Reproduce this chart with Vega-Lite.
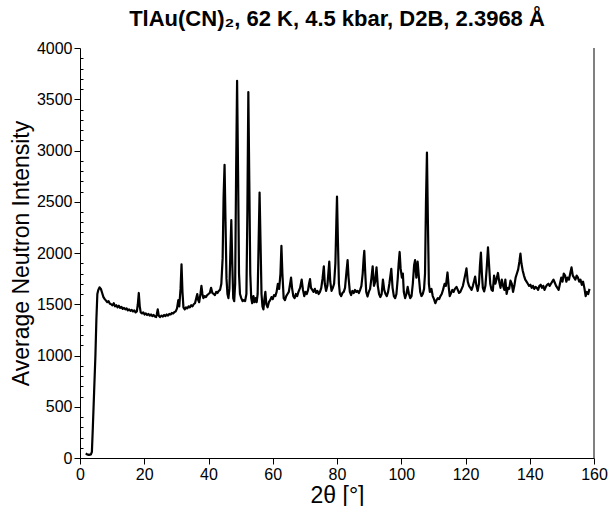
{
  "$schema": "https://vega.github.io/schema/vega-lite/v6.json",
  "autosize": "none",
  "width": 514,
  "height": 410,
  "padding": {"left": 80, "top": 48, "right": 14, "bottom": 48},
  "background": "white",
  "config": {
    "view": {"stroke": null},
    "axis": {
      "domainColor": "black", "tickColor": "black", "labelColor": "black", "titleColor": "black",
      "labelFont": "Liberation Sans", "titleFont": "Liberation Sans", "titleFontWeight": "normal",
      "labelFontSize": 16, "titleFontSize": 23, "grid": false, "labelFlush": false, "labelOverlap": false
    }
  },
  "title": {
    "text": "TlAu(CN)₂, 62 K, 4.5 kbar, D2B, 2.3968 Å",
    "font": "Liberation Sans", "fontSize": 22, "fontWeight": "bold", "color": "black",
    "baseline": "alphabetic", "offset": -8, "anchor": "middle"
  },
  "layer": [
    {
      "data": {"values": [
        {"angle":1.8,"intensity":45},{"angle":2.2,"intensity":35},{"angle":2.8,"intensity":30},{"angle":3.4,"intensity":35},{"angle":3.7,"intensity":60},{"angle":4.0,"intensity":300},{"angle":4.4,"intensity":650},{"angle":4.8,"intensity":1000},{"angle":5.1,"intensity":1350},{"angle":5.4,"intensity":1600},{"angle":5.7,"intensity":1640},{"angle":6.1,"intensity":1665},{"angle":6.5,"intensity":1650},{"angle":6.9,"intensity":1610},{"angle":7.3,"intensity":1570},{"angle":7.7,"intensity":1550},{"angle":8.1,"intensity":1535},{"angle":8.5,"intensity":1520},{"angle":8.9,"intensity":1530},{"angle":9.3,"intensity":1505},{"angle":9.7,"intensity":1500},{"angle":10.1,"intensity":1490},{"angle":10.5,"intensity":1510},{"angle":10.9,"intensity":1480},{"angle":11.3,"intensity":1490},{"angle":11.7,"intensity":1470},{"angle":12.1,"intensity":1485},{"angle":12.5,"intensity":1465},{"angle":12.9,"intensity":1475},{"angle":13.3,"intensity":1455},{"angle":13.7,"intensity":1465},{"angle":14.1,"intensity":1450},{"angle":14.5,"intensity":1460},{"angle":14.9,"intensity":1440},{"angle":15.3,"intensity":1450},{"angle":15.7,"intensity":1435},{"angle":16.1,"intensity":1445},{"angle":16.5,"intensity":1430},{"angle":16.9,"intensity":1440},{"angle":17.3,"intensity":1420},{"angle":17.7,"intensity":1430},{"angle":18.0,"intensity":1500},{"angle":18.3,"intensity":1610},{"angle":18.6,"intensity":1480},{"angle":18.9,"intensity":1420},{"angle":19.3,"intensity":1410},{"angle":19.7,"intensity":1420},{"angle":20.1,"intensity":1400},{"angle":20.5,"intensity":1410},{"angle":20.9,"intensity":1395},{"angle":21.3,"intensity":1405},{"angle":21.7,"intensity":1390},{"angle":22.1,"intensity":1400},{"angle":22.5,"intensity":1385},{"angle":22.9,"intensity":1395},{"angle":23.3,"intensity":1380},{"angle":23.7,"intensity":1375},{"angle":23.9,"intensity":1400},{"angle":24.2,"intensity":1450},{"angle":24.5,"intensity":1390},{"angle":24.9,"intensity":1375},{"angle":25.4,"intensity":1390},{"angle":25.8,"intensity":1380},{"angle":26.2,"intensity":1395},{"angle":26.6,"intensity":1385},{"angle":27.0,"intensity":1400},{"angle":27.4,"intensity":1390},{"angle":27.8,"intensity":1405},{"angle":28.2,"intensity":1400},{"angle":28.6,"intensity":1415},{"angle":29.0,"intensity":1410},{"angle":29.4,"intensity":1425},{"angle":29.8,"intensity":1430},{"angle":30.2,"intensity":1460},{"angle":30.6,"intensity":1540},{"angle":30.9,"intensity":1480},{"angle":31.3,"intensity":1650},{"angle":31.6,"intensity":1890},{"angle":31.9,"intensity":1620},{"angle":32.2,"intensity":1470},{"angle":32.6,"intensity":1450},{"angle":33.0,"intensity":1470},{"angle":33.4,"intensity":1460},{"angle":33.8,"intensity":1480},{"angle":34.2,"intensity":1470},{"angle":34.6,"intensity":1490},{"angle":35.0,"intensity":1480},{"angle":35.4,"intensity":1500},{"angle":35.8,"intensity":1510},{"angle":36.2,"intensity":1560},{"angle":36.5,"intensity":1600},{"angle":36.8,"intensity":1540},{"angle":37.1,"intensity":1520},{"angle":37.5,"intensity":1600},{"angle":37.8,"intensity":1680},{"angle":38.1,"intensity":1600},{"angle":38.4,"intensity":1560},{"angle":38.8,"intensity":1580},{"angle":39.2,"intensity":1570},{"angle":39.6,"intensity":1590},{"angle":40.0,"intensity":1600},{"angle":40.4,"intensity":1610},{"angle":40.8,"intensity":1660},{"angle":41.2,"intensity":1610},{"angle":41.6,"intensity":1600},{"angle":42.0,"intensity":1590},{"angle":42.4,"intensity":1620},{"angle":42.8,"intensity":1610},{"angle":43.2,"intensity":1630},{"angle":43.6,"intensity":1640},{"angle":44.0,"intensity":1700},{"angle":44.4,"intensity":1950},{"angle":44.7,"intensity":2550},{"angle":45.0,"intensity":2860},{"angle":45.3,"intensity":2300},{"angle":45.6,"intensity":1750},{"angle":45.9,"intensity":1600},{"angle":46.2,"intensity":1560},{"angle":46.5,"intensity":1650},{"angle":46.8,"intensity":2000},{"angle":47.1,"intensity":2320},{"angle":47.4,"intensity":1900},{"angle":47.7,"intensity":1560},{"angle":48.0,"intensity":1530},{"angle":48.3,"intensity":1700},{"angle":48.6,"intensity":2800},{"angle":48.9,"intensity":3680},{"angle":49.2,"intensity":2800},{"angle":49.5,"intensity":1800},{"angle":49.8,"intensity":1600},{"angle":50.2,"intensity":1560},{"angle":50.6,"intensity":1530},{"angle":51.0,"intensity":1540},{"angle":51.4,"intensity":1530},{"angle":51.8,"intensity":1600},{"angle":52.1,"intensity":2400},{"angle":52.4,"intensity":3570},{"angle":52.7,"intensity":2700},{"angle":53.0,"intensity":1800},{"angle":53.3,"intensity":1560},{"angle":53.6,"intensity":1510},{"angle":54.0,"intensity":1580},{"angle":54.3,"intensity":1520},{"angle":54.7,"intensity":1560},{"angle":55.0,"intensity":1520},{"angle":55.3,"intensity":1600},{"angle":55.6,"intensity":2100},{"angle":55.9,"intensity":2590},{"angle":56.2,"intensity":2100},{"angle":56.5,"intensity":1600},{"angle":56.8,"intensity":1480},{"angle":57.1,"intensity":1450},{"angle":57.4,"intensity":1550},{"angle":57.7,"intensity":1620},{"angle":58.0,"intensity":1500},{"angle":58.4,"intensity":1470},{"angle":58.8,"intensity":1520},{"angle":59.2,"intensity":1540},{"angle":59.6,"intensity":1570},{"angle":60.0,"intensity":1550},{"angle":60.4,"intensity":1590},{"angle":60.8,"intensity":1580},{"angle":61.2,"intensity":1620},{"angle":61.6,"intensity":1700},{"angle":62.0,"intensity":1650},{"angle":62.4,"intensity":1800},{"angle":62.7,"intensity":2070},{"angle":63.0,"intensity":1800},{"angle":63.4,"intensity":1560},{"angle":63.8,"intensity":1540},{"angle":64.2,"intensity":1580},{"angle":64.6,"intensity":1600},{"angle":65.0,"intensity":1620},{"angle":65.3,"intensity":1680},{"angle":65.7,"intensity":1760},{"angle":66.0,"intensity":1660},{"angle":66.4,"intensity":1580},{"angle":66.8,"intensity":1560},{"angle":67.2,"intensity":1600},{"angle":67.6,"intensity":1580},{"angle":68.0,"intensity":1620},{"angle":68.5,"intensity":1660},{"angle":69.0,"intensity":1740},{"angle":69.4,"intensity":1640},{"angle":69.8,"intensity":1580},{"angle":70.2,"intensity":1620},{"angle":70.6,"intensity":1600},{"angle":71.0,"intensity":1640},{"angle":71.3,"intensity":1700},{"angle":71.6,"intensity":1745},{"angle":71.9,"intensity":1660},{"angle":72.3,"intensity":1640},{"angle":72.7,"intensity":1620},{"angle":73.1,"intensity":1650},{"angle":73.5,"intensity":1610},{"angle":73.9,"intensity":1630},{"angle":74.3,"intensity":1600},{"angle":74.7,"intensity":1620},{"angle":75.1,"intensity":1660},{"angle":75.5,"intensity":1750},{"angle":75.9,"intensity":1870},{"angle":76.2,"intensity":1700},{"angle":76.6,"intensity":1630},{"angle":77.0,"intensity":1680},{"angle":77.3,"intensity":1800},{"angle":77.6,"intensity":1915},{"angle":77.9,"intensity":1720},{"angle":78.3,"intensity":1630},{"angle":78.7,"intensity":1660},{"angle":79.1,"intensity":1700},{"angle":79.5,"intensity":1900},{"angle":79.8,"intensity":2300},{"angle":80.0,"intensity":2550},{"angle":80.3,"intensity":2100},{"angle":80.6,"intensity":1700},{"angle":80.9,"intensity":1600},{"angle":81.3,"intensity":1580},{"angle":81.7,"intensity":1610},{"angle":82.1,"intensity":1620},{"angle":82.5,"intensity":1660},{"angle":82.9,"intensity":1800},{"angle":83.3,"intensity":1930},{"angle":83.6,"intensity":1760},{"angle":84.0,"intensity":1620},{"angle":84.4,"intensity":1590},{"angle":84.8,"intensity":1630},{"angle":85.2,"intensity":1610},{"angle":85.6,"intensity":1640},{"angle":86.0,"intensity":1620},{"angle":86.4,"intensity":1630},{"angle":86.8,"intensity":1610},{"angle":87.2,"intensity":1640},{"angle":87.6,"intensity":1680},{"angle":88.0,"intensity":1800},{"angle":88.3,"intensity":1950},{"angle":88.5,"intensity":2020},{"angle":88.8,"intensity":1800},{"angle":89.1,"intensity":1620},{"angle":89.5,"intensity":1575},{"angle":89.9,"intensity":1620},{"angle":90.3,"intensity":1650},{"angle":90.7,"intensity":1750},{"angle":91.1,"intensity":1870},{"angle":91.5,"intensity":1680},{"angle":91.9,"intensity":1720},{"angle":92.3,"intensity":1860},{"angle":92.7,"intensity":1680},{"angle":93.1,"intensity":1600},{"angle":93.5,"intensity":1570},{"angle":93.9,"intensity":1600},{"angle":94.3,"intensity":1740},{"angle":94.7,"intensity":1640},{"angle":95.1,"intensity":1600},{"angle":95.5,"intensity":1580},{"angle":95.9,"intensity":1620},{"angle":96.3,"intensity":1700},{"angle":96.9,"intensity":1845},{"angle":97.3,"intensity":1660},{"angle":97.7,"intensity":1580},{"angle":98.1,"intensity":1560},{"angle":98.5,"intensity":1600},{"angle":98.9,"intensity":1750},{"angle":99.2,"intensity":1900},{"angle":99.5,"intensity":2010},{"angle":99.8,"intensity":1850},{"angle":100.2,"intensity":1760},{"angle":100.5,"intensity":1800},{"angle":100.8,"intensity":1620},{"angle":101.2,"intensity":1560},{"angle":101.6,"intensity":1600},{"angle":102.0,"intensity":1670},{"angle":102.4,"intensity":1600},{"angle":102.8,"intensity":1560},{"angle":103.2,"intensity":1580},{"angle":103.6,"intensity":1700},{"angle":104.0,"intensity":1880},{"angle":104.3,"intensity":1930},{"angle":104.7,"intensity":1760},{"angle":105.1,"intensity":1915},{"angle":105.5,"intensity":1760},{"angle":105.9,"intensity":1620},{"angle":106.3,"intensity":1580},{"angle":106.7,"intensity":1600},{"angle":107.1,"intensity":1650},{"angle":107.4,"intensity":1800},{"angle":107.7,"intensity":2500},{"angle":108.0,"intensity":2980},{"angle":108.3,"intensity":2300},{"angle":108.6,"intensity":1700},{"angle":108.9,"intensity":1620},{"angle":109.4,"intensity":1650},{"angle":109.8,"intensity":1580},{"angle":110.2,"intensity":1550},{"angle":110.6,"intensity":1510},{"angle":111.0,"intensity":1540},{"angle":111.4,"intensity":1560},{"angle":111.8,"intensity":1550},{"angle":112.2,"intensity":1580},{"angle":112.6,"intensity":1600},{"angle":113.0,"intensity":1640},{"angle":113.5,"intensity":1700},{"angle":113.9,"intensity":1680},{"angle":114.4,"intensity":1810},{"angle":114.8,"intensity":1660},{"angle":115.1,"intensity":1580},{"angle":115.5,"intensity":1610},{"angle":115.9,"intensity":1640},{"angle":116.3,"intensity":1620},{"angle":116.7,"intensity":1650},{"angle":117.2,"intensity":1670},{"angle":117.6,"intensity":1640},{"angle":118.0,"intensity":1610},{"angle":118.4,"intensity":1620},{"angle":118.8,"intensity":1650},{"angle":119.2,"intensity":1680},{"angle":119.6,"intensity":1740},{"angle":120.0,"intensity":1800},{"angle":120.3,"intensity":1850},{"angle":120.7,"intensity":1720},{"angle":121.1,"intensity":1680},{"angle":121.5,"intensity":1660},{"angle":121.9,"intensity":1640},{"angle":122.3,"intensity":1680},{"angle":122.7,"intensity":1730},{"angle":123.0,"intensity":1770},{"angle":123.4,"intensity":1680},{"angle":123.8,"intensity":1630},{"angle":124.2,"intensity":1700},{"angle":124.5,"intensity":1880},{"angle":124.8,"intensity":2005},{"angle":125.1,"intensity":1800},{"angle":125.4,"intensity":1660},{"angle":125.8,"intensity":1625},{"angle":126.2,"intensity":1680},{"angle":126.6,"intensity":1850},{"angle":127.0,"intensity":2055},{"angle":127.3,"intensity":1900},{"angle":127.7,"intensity":1700},{"angle":128.1,"intensity":1640},{"angle":128.5,"intensity":1630},{"angle":128.9,"intensity":1780},{"angle":129.3,"intensity":1700},{"angle":129.7,"intensity":1750},{"angle":130.1,"intensity":1805},{"angle":130.5,"intensity":1720},{"angle":130.9,"intensity":1660},{"angle":131.3,"intensity":1740},{"angle":131.7,"intensity":1680},{"angle":132.1,"intensity":1640},{"angle":132.4,"intensity":1740},{"angle":132.8,"intensity":1600},{"angle":133.2,"intensity":1660},{"angle":133.6,"intensity":1650},{"angle":134.0,"intensity":1730},{"angle":134.4,"intensity":1700},{"angle":134.8,"intensity":1620},{"angle":135.2,"intensity":1680},{"angle":135.6,"intensity":1760},{"angle":136.0,"intensity":1800},{"angle":136.4,"intensity":1840},{"angle":136.8,"intensity":1920},{"angle":137.1,"intensity":1995},{"angle":137.4,"intensity":1900},{"angle":137.8,"intensity":1830},{"angle":138.2,"intensity":1780},{"angle":138.6,"intensity":1740},{"angle":139.0,"intensity":1720},{"angle":139.4,"intensity":1700},{"angle":139.8,"intensity":1680},{"angle":140.2,"intensity":1690},{"angle":140.6,"intensity":1660},{"angle":141.0,"intensity":1680},{"angle":141.4,"intensity":1650},{"angle":141.8,"intensity":1670},{"angle":142.2,"intensity":1660},{"angle":142.6,"intensity":1640},{"angle":143.0,"intensity":1680},{"angle":143.4,"intensity":1690},{"angle":143.8,"intensity":1660},{"angle":144.2,"intensity":1680},{"angle":144.6,"intensity":1640},{"angle":145.0,"intensity":1670},{"angle":145.4,"intensity":1690},{"angle":145.8,"intensity":1700},{"angle":146.2,"intensity":1680},{"angle":146.6,"intensity":1700},{"angle":147.0,"intensity":1720},{"angle":147.4,"intensity":1740},{"angle":147.8,"intensity":1710},{"angle":148.2,"intensity":1680},{"angle":148.6,"intensity":1660},{"angle":149.0,"intensity":1640},{"angle":149.4,"intensity":1700},{"angle":149.8,"intensity":1760},{"angle":150.2,"intensity":1720},{"angle":150.6,"intensity":1800},{"angle":151.0,"intensity":1780},{"angle":151.4,"intensity":1720},{"angle":151.8,"intensity":1760},{"angle":152.2,"intensity":1740},{"angle":152.6,"intensity":1800},{"angle":153.0,"intensity":1860},{"angle":153.4,"intensity":1780},{"angle":153.8,"intensity":1760},{"angle":154.2,"intensity":1740},{"angle":154.6,"intensity":1780},{"angle":155.0,"intensity":1760},{"angle":155.4,"intensity":1720},{"angle":155.8,"intensity":1740},{"angle":156.2,"intensity":1690},{"angle":156.6,"intensity":1720},{"angle":157.0,"intensity":1660},{"angle":157.4,"intensity":1580},{"angle":157.8,"intensity":1620},{"angle":158.2,"intensity":1600},{"angle":158.6,"intensity":1650}
      ]},
      "mark": {"type": "line", "color": "black", "strokeWidth": 2.2, "strokeJoin": "round"},
      "encoding": {
        "x": {
          "field": "angle", "type": "quantitative",
          "scale": {"domain": [0, 160], "nice": false, "zero": false},
          "axis": {
            "title": "2θ [°]",
            "values": [0,10,20,30,40,50,60,70,80,90,100,110,120,130,140,150,160],
            "labelExpr": "datum.value % 20 === 0 ? datum.label : ''",
            "tickSize": {"condition": {"test": "datum.value % 20 === 0", "value": 6}, "value": -3},
            "labelPadding": 2, "titlePadding": 2
          }
        },
        "y": {
          "field": "intensity", "type": "quantitative",
          "scale": {"domain": [0, 4000], "nice": false},
          "axis": {
            "title": "Average Neutron Intensity",
            "values": [0,100,200,300,400,500,600,700,800,900,1000,1100,1200,1300,1400,1500,1600,1700,1800,1900,2000,2100,2200,2300,2400,2500,2600,2700,2800,2900,3000,3100,3200,3300,3400,3500,3600,3700,3800,3900,4000],
            "labelExpr": "datum.value % 500 === 0 ? datum.label : ''",
            "format": "d",
            "tickSize": {"condition": {"test": "datum.value % 500 === 0", "value": 6}, "value": -3},
            "labelPadding": 2, "titlePadding": 3
          }
        }
      }
    },
    {
      "data": {"values": [{"edge": 160}]},
      "mark": {"type": "rule", "color": "black", "strokeWidth": 1},
      "encoding": {"x": {"field": "edge", "type": "quantitative"}}
    }
  ]
}
